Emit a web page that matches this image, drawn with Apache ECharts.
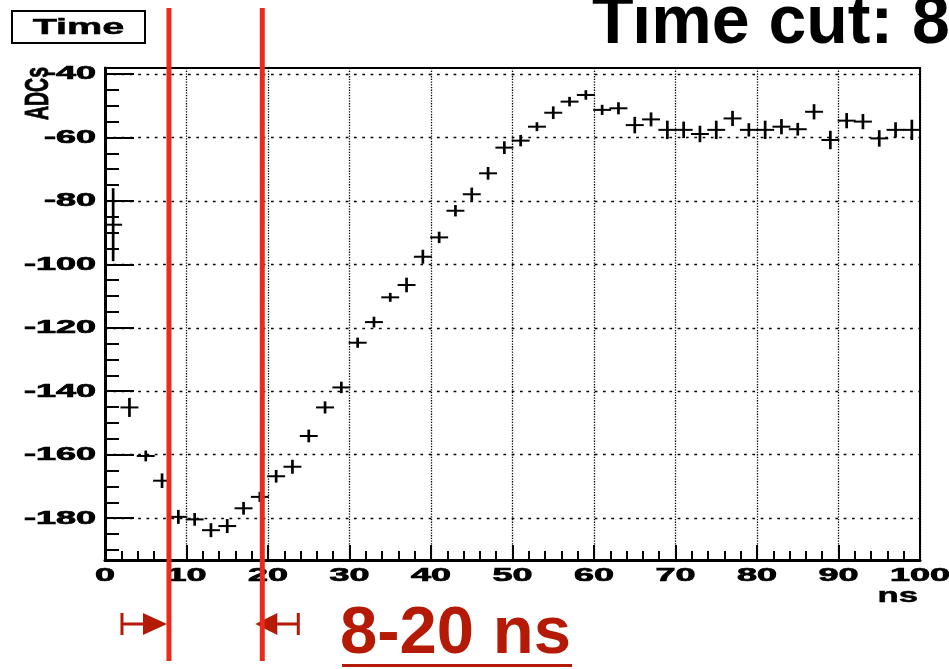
<!DOCTYPE html>
<html>
<head>
<meta charset="utf-8">
<script src="https://cdn.jsdelivr.net/npm/echarts@6/dist/echarts.min.js"></script>
<style>
html,body{margin:0;padding:0;background:#fff;}
#chart{width:949px;height:669px;}
</style>
</head>
<body>
<div id="chart"></div>
<script>
// ---- data ----
const binCenters = [1,3,5,7,9,11,13,15,17,19,21,23,25,27,29,31,33,35,37,39,41,43,45,47,49,51,53,55,57,59,61,63,65,67,69,71,73,75,77,79,81,83,85,87,89,91,93,95,97,99];
const adcValues = [-87.5,-145.1,-160.4,-168.2,-179.6,-180.4,-183.8,-182.5,-176.9,-173.3,-166.8,-163.8,-154.1,-145.1,-138.8,-124.7,-118.2,-110.4,-106.5,-97.6,-91.5,-83.1,-77.9,-71.3,-63.2,-61.0,-56.6,-52.2,-48.7,-46.6,-51.3,-50.8,-56.1,-54.3,-57.6,-57.6,-58.9,-57.6,-54.0,-57.6,-57.6,-56.6,-57.4,-51.9,-60.8,-54.7,-55.0,-60.3,-57.6,-57.6];
const adcErrors = [11.5,3,1.7,2.3,2.2,2,2.2,2.2,2,1.6,2,2.2,2,1.9,1.8,1.6,1.7,1.4,2.3,2.2,1.8,1.8,2.1,2,2,1.8,1.4,2,1.5,1.5,1.6,1.9,2.6,2.2,2.9,2.6,2.6,2.9,2.4,2.1,2.9,2.4,2,2.4,2.9,2.4,2.4,2.6,2.4,3.2];
const binHalfWidth = 1.1;
const xTickLabels = [0,10,20,30,40,50,60,70,80,90,100];
const yTickLabels = [-180,-160,-140,-120,-100,-80,-60,-40];
const yMinorTicks = [-190,-185,-180,-175,-170,-165,-160,-155,-150,-145,-140,-135,-130,-125,-120,-115,-110,-105,-100,-95,-90,-85,-80,-75,-70,-65,-60,-55,-50,-45,-40];
const cutLines = [7.85, 19.3];
const xRange = [0, 100];
const yRange = [-193.2, -38.1];

const chart = echarts.init(document.getElementById('chart'), null, {renderer:'canvas'});
const data = binCenters.map((x, i) => [x, adcValues[i], adcErrors[i]]);

const option = {
  animation: false,
  backgroundColor: '#fff',
  grid: {left: 105, right: 29, top: 68, bottom: 109, show: true, borderColor: '#000', borderWidth: 2, backgroundColor: 'transparent'},
  xAxis: {
    type: 'value', min: xRange[0], max: xRange[1], interval: 10,
    axisLine: {show: true, onZero: false, lineStyle: {color: '#000', width: 3}},
    axisTick: {show: true, inside: true, length: 15, lineStyle: {color: '#000', width: 2}},
    minorTick: {show: true, splitNumber: 5, length: 9, lineStyle: {color: '#000', width: 2}},
    splitLine: {show: true, lineStyle: {color: '#000', width: 1.3, type: [1.3, 1.4]}},
    axisLabel: {show: false}
  },
  yAxis: [{
    type: 'value', min: yRange[0], max: yRange[1],
    axisLine: {show: true, onZero: false, lineStyle: {color: '#000', width: 3}},
    axisTick: {show: true, inside: true, length: 29, customValues: yTickLabels, lineStyle: {color: '#000', width: 2}},
    splitLine: {show: true, lineStyle: {color: '#000', width: 1.3, type: [2.7, 5.6]}},
    axisLabel: {show: false, customValues: yTickLabels}
  }, {
    type: 'value', min: yRange[0], max: yRange[1], position: 'left', offset: 0,
    axisLine: {show: false},
    axisTick: {show: true, inside: true, length: 14, customValues: yMinorTicks, lineStyle: {color: '#000', width: 2}},
    splitLine: {show: false},
    axisLabel: {show: false}
  }],
  series: [{
    type: 'custom',
    xAxisIndex: 0, yAxisIndex: 0,
    data: data,
    clip: false,
    renderItem: function (params, api) {
      const x = api.value(0), y = api.value(1), e = api.value(2);
      const pL = api.coord([x - binHalfWidth, y]);
      const pR = api.coord([x + binHalfWidth, y]);
      const pT = api.coord([x, y + e]);
      const pB = api.coord([x, y - e]);
      return {
        type: 'group',
        children: [
          {type: 'line', shape: {x1: pL[0], y1: pL[1], x2: pR[0], y2: pR[1]}, style: {stroke: '#000', lineWidth: 2}},
          {type: 'line', shape: {x1: pT[0], y1: pT[1], x2: pB[0], y2: pB[1]}, style: {stroke: '#000', lineWidth: 2.7}}
        ]
      };
    }
  }]
};
chart.setOption(option);

// ---- annotations & stretched labels, positioned through the axes ----
const toX = v => chart.convertToPixel({xAxisIndex: 0}, v);
const toY = v => chart.convertToPixel({yAxisIndex: 0}, v);
const LABEL_FONT = 'bold 18px "Liberation Sans", Arial, sans-serif';
const g = [];

const axisLeft = toX(xRange[0]);
const axisBottom = toY(yRange[0]);

yTickLabels.forEach(v => {
  g.push({type: 'text', x: axisLeft - 9, y: toY(v) + 0.5, scaleX: 2, z: 10,
    style: {text: String(v), font: LABEL_FONT, fill: '#000', stroke: '#000', lineWidth: 0.7, align: 'right', verticalAlign: 'middle'}});
});
xTickLabels.forEach(v => {
  g.push({type: 'text', x: toX(v), y: axisBottom + 16, scaleX: 2, z: 10,
    style: {text: String(v), font: LABEL_FONT, fill: '#000', stroke: '#000', lineWidth: 0.7, align: 'center', verticalAlign: 'middle'}});
});
// axis titles
g.push({type: 'text', x: toX(xRange[1]) - 2, y: axisBottom + 36, scaleX: 1.65, z: 10,
  style: {text: 'ns', font: 'bold 21px "Liberation Sans", Arial, sans-serif', fill: '#000', stroke: '#000', lineWidth: 0.5, align: 'right', verticalAlign: 'middle'}});
g.push({type: 'text', x: 38.5, y: toY(yRange[1]) - 1, rotation: Math.PI / 2, scaleY: 1.75, z: 10,
  style: {text: 'ADCs', font: 'bold 19.5px "Liberation Sans", Arial, sans-serif', fill: '#000', stroke: '#000', lineWidth: 0.5, align: 'right', verticalAlign: 'middle'}});

// "Time" box
g.push({type: 'rect', shape: {x: 12, y: 11, width: 133, height: 32}, style: {fill: '#fff', stroke: '#000', lineWidth: 2}, z: 10});
g.push({type: 'text', x: 78.5, y: 27.5, scaleX: 1.8, z: 11,
  style: {text: 'Time', font: 'bold 22px "Liberation Sans", Arial, sans-serif', fill: '#000', stroke: '#000', lineWidth: 0.5, align: 'center', verticalAlign: 'middle'}});

// slide title (cut at the right edge)
g.push({type: 'text', x: 592, y: 24, z: 12,
  style: {text: 'Time cut: 8-20 ns', font: 'bold 68px "Liberation Sans", Arial, sans-serif', fill: '#000', align: 'left', verticalAlign: 'middle'}});

// red cut lines
const RED = '#ec2a1c';
const DARKRED = '#b51a06';
const cx = cutLines.map(toX);
cx.forEach(x => {
  g.push({type: 'line', shape: {x1: x, y1: 8, x2: x, y2: 661}, style: {stroke: RED, lineWidth: 5}, z: 20});
});
// arrows
const ay = 624;
const la = cx[0] - 2;
g.push({type: 'polygon', shape: {points: [[la - 24, ay - 11], [la, ay], [la - 24, ay + 11]]}, style: {fill: DARKRED}, z: 19});
g.push({type: 'line', shape: {x1: la - 45, y1: ay, x2: la - 20, y2: ay}, style: {stroke: DARKRED, lineWidth: 3}, z: 19});
g.push({type: 'line', shape: {x1: la - 45, y1: ay - 11, x2: la - 45, y2: ay + 11}, style: {stroke: DARKRED, lineWidth: 3}, z: 19});
const ra = cx[1] - 7;
g.push({type: 'polygon', shape: {points: [[ra + 22, ay - 11], [ra, ay], [ra + 22, ay + 11]]}, style: {fill: DARKRED}, z: 19});
g.push({type: 'line', shape: {x1: ra + 18, y1: ay, x2: ra + 43, y2: ay}, style: {stroke: DARKRED, lineWidth: 3}, z: 19});
g.push({type: 'line', shape: {x1: ra + 43, y1: ay - 11, x2: ra + 43, y2: ay + 11}, style: {stroke: DARKRED, lineWidth: 3}, z: 19});

// "8-20 ns" label with underline
g.push({type: 'text', x: 340, y: 635, z: 20,
  style: {text: '8-20 ns', font: 'bold 67px "Liberation Sans", Arial, sans-serif', fill: DARKRED, align: 'left', verticalAlign: 'middle'}});
g.push({type: 'rect', shape: {x: 342, y: 664, width: 230, height: 3}, style: {fill: DARKRED}, z: 20});

chart.setOption({graphic: {elements: g}});
</script>
</body>
</html>
